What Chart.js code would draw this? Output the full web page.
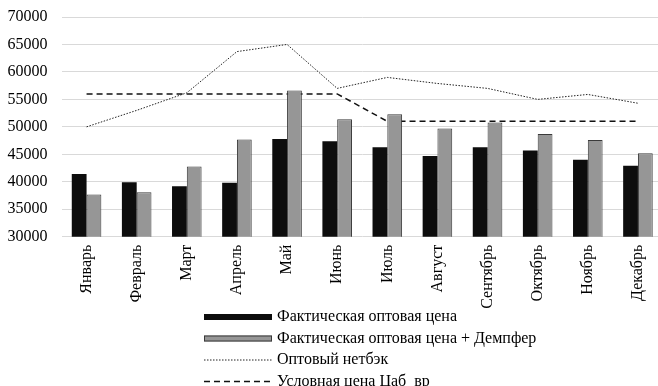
<!DOCTYPE html>
<html>
<head>
<meta charset="utf-8">
<script src="https://cdn.jsdelivr.net/npm/chart.js@4.4.0/dist/chart.umd.min.js"></script>
<style>
  html, body { margin: 0; padding: 0; background: #fff; overflow: hidden; }
  #wrap { width: 658px; height: 386px; overflow: hidden; position: relative; }
  #wrap canvas { position: absolute; left: 0; top: 0; }
</style>
</head>
<body>
<div id="wrap"><canvas id="c" width="664" height="386" style="width:664px;height:386px"></canvas></div>
<script>
// Months on the category axis
const months = ['Январь', 'Февраль', 'Март', 'Апрель', 'Май', 'Июнь',
                'Июль', 'Август', 'Сентябрь', 'Октябрь', 'Ноябрь', 'Декабрь'];

// Series values
const factPrice   = [41400, 39900, 39200, 39800, 47800, 47400, 46300, 44700, 46300, 45700, 44000, 42900];
const factDamper  = [37700, 38100, 42800, 47700, 56600, 51400, 52300, 49700, 50800, 48700, 47600, 45200];
const netback     = [50000, 53000, 56200, 63700, 65000, 57000, 59000, 57900, 57000, 55000, 55900, 54300];
const condPrice   = [56000, 56000, 56000, 56000, 56000, 56000, 51000, 51000, 51000, 51000, 51000, 51000];

// Value axis range
const yMin = 30000;
const yMax = 70000;
const yStep = 5000;

const seriesNames = [
  'Фактическая оптовая цена',
  'Фактическая оптовая цена + Демпфер',
  'Оптовый нетбэк',
  'Условная цена Цаб  вр'
];

const FONT = '"Liberation Serif", "Times New Roman", serif';

// Legend drawn as a single left-aligned column under the axis labels
const columnLegend = {
  id: 'columnLegend',
  afterDraw(chart) {
    const ctx = chart.ctx;
    const symX = 204, symW = 68, textX = 277, y0 = 317, step = 21.5;
    ctx.save();
    chart.data.datasets.forEach((ds, i) => {
      const y = y0 + i * step;
      if (ds.type === 'line') {
        ctx.beginPath();
        ctx.setLineDash(ds.borderDash || []);
        ctx.lineWidth = ds.borderWidth;
        ctx.strokeStyle = ds.borderColor;
        ctx.moveTo(symX, y);
        ctx.lineTo(symX + symW, y);
        ctx.stroke();
        ctx.setLineDash([]);
      } else {
        ctx.fillStyle = ds.backgroundColor;
        ctx.fillRect(symX, y - 3, symW, 6);
        if (ds.borderWidth) {
          ctx.lineWidth = ds.borderWidth;
          ctx.strokeStyle = ds.borderColor;
          ctx.strokeRect(symX + 0.5, y - 2.5, symW - 1, 5);
        }
      }
      ctx.fillStyle = '#000';
      ctx.font = '16px ' + FONT;
      ctx.textBaseline = 'middle';
      ctx.textAlign = 'left';
      ctx.fillText(ds.label, textX, y);
    });
    ctx.restore();
  }
};

new Chart(document.getElementById('c'), {
  data: {
    labels: months,
    datasets: [
      {
        type: 'bar',
        label: seriesNames[0],
        data: factPrice,
        backgroundColor: '#0d0d0d',
        borderColor: '#0d0d0d',
        borderWidth: 0,
        categoryPercentage: 0.59,
        barPercentage: 1.0
      },
      {
        type: 'bar',
        label: seriesNames[1],
        data: factDamper,
        backgroundColor: '#969696',
        borderColor: '#3a3a3a',
        borderWidth: 1,
        categoryPercentage: 0.59,
        barPercentage: 1.0
      },
      {
        type: 'line',
        label: seriesNames[2],
        data: netback,
        borderColor: '#222',
        borderWidth: 1,
        borderDash: [1.5, 1.5],
        pointRadius: 0,
        tension: 0,
        fill: false
      },
      {
        type: 'line',
        label: seriesNames[3],
        data: condPrice,
        borderColor: '#111',
        borderWidth: 1.5,
        borderDash: [6, 4],
        pointRadius: 0,
        tension: 0,
        fill: false
      }
    ]
  },
  options: {
    responsive: false,
    animation: false,
    devicePixelRatio: 1,
    layout: { padding: { top: 17, bottom: 69.3, left: 0, right: 1 } },
    plugins: {
      legend: { display: false },
      tooltip: { enabled: false }
    },
    scales: {
      x: {
        grid: { display: false, drawTicks: false },
        border: { display: false },
        ticks: {
          maxRotation: 90,
          minRotation: 90,
          padding: 8,
          color: '#000',
          font: { family: FONT, size: 16 }
        },
        afterFit(scale) {
          scale.height = 80;
          scale.paddingLeft = 0;
          scale.paddingRight = 0;
        }
      },
      y: {
        min: yMin,
        max: yMax,
        grid: { color: '#d9d9d9', lineWidth: 1, drawTicks: false },
        border: { display: false },
        ticks: {
          stepSize: yStep,
          padding: 14,
          color: '#000',
          font: { family: FONT, size: 16 },
          callback: v => String(v)
        },
        afterFit(scale) {
          scale.width = 61.5;
          scale.paddingTop = 0;
          scale.paddingBottom = 0;
        }
      }
    }
  },
  plugins: [columnLegend]
});
</script>
</body>
</html>
